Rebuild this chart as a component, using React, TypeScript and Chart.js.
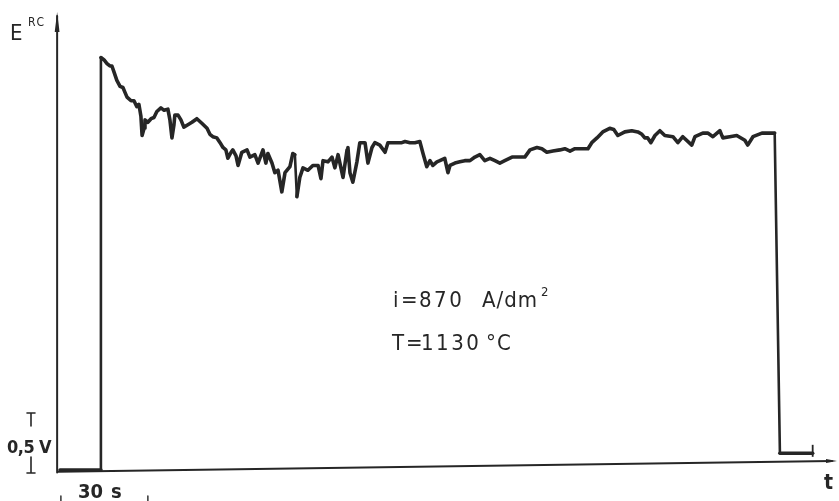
import React, { useEffect, useRef } from "react";
import { Chart, registerables } from "chart.js";

Chart.register(...registerables);

// Recorded potential E^RC versus time t (seconds, volts above the zero line)
const timeSec: number[] = [
  0.7, 14.8, 14.8, 15.9, 16.9, 17.9, 18.6, 19.3, 20.3, 21.4,
  22.4, 23.1, 23.8, 25.2, 26.2, 27.2, 27.9, 28.6, 29.0, 29.7,
  30.0, 31.0, 32.1, 33.1, 34.1, 35.5, 36.6, 37.9, 38.6, 39.3,
  40.0, 40.3, 41.4, 42.4, 43.4, 44.8, 46.2, 47.9, 49.7, 51.4,
  52.4, 53.4, 54.8, 55.9, 56.9, 57.9, 58.6, 59.7, 60.3, 61.4,
  62.1, 63.4, 65.2, 66.2, 67.9, 69.0, 70.7, 71.7, 72.4, 73.8,
  74.8, 75.9, 77.2, 78.3, 80.0, 81.0, 81.7, 82.4, 83.4, 84.5,
  86.2, 87.9, 89.7, 90.7, 91.4, 93.1, 94.5, 95.5, 96.6, 98.3,
  99.7, 100.0, 100.7, 101.7, 103.1, 104.1, 105.9, 106.9, 108.3, 109.3,
  111.0, 112.8, 113.8, 116.2, 118.6, 119.7, 121.4, 123.1, 124.8, 125.9,
  127.2, 128.3, 129.3, 130.7, 131.7, 133.4, 134.5, 135.2, 136.9, 138.6,
  140.3, 142.1, 143.8, 145.5, 147.2, 149.0, 150.7, 152.4, 154.1, 156.6,
  158.3, 161.0, 162.8, 165.2, 166.9, 168.6, 170.7, 173.1, 174.8, 176.6,
  178.3, 180.7, 182.8, 184.1, 185.9, 187.9, 190.3, 191.7, 193.1, 195.5,
  197.9, 200.0, 201.4, 202.4, 203.4, 204.5, 205.9, 207.6, 209.3, 212.1,
  213.8, 215.5, 218.6, 219.7, 222.4, 224.1, 225.9, 228.3, 229.3, 231.7,
  234.1, 236.9, 237.9, 239.7, 242.8, 247.2, 249.0, 260.3,
];

const potentialV: number[] = [
  0.0, 0.0, 3.44, 3.42, 3.39, 3.37, 3.37, 3.32, 3.25, 3.2,
  3.19, 3.15, 3.11, 3.08, 3.08, 3.03, 3.05, 2.95, 2.79, 2.85,
  2.92, 2.9, 2.93, 2.94, 2.99, 3.02, 3.0, 3.01, 2.92, 2.77,
  2.88, 2.96, 2.96, 2.92, 2.86, 2.88, 2.9, 2.93, 2.89, 2.85,
  2.8, 2.78, 2.77, 2.73, 2.69, 2.67, 2.6, 2.65, 2.67, 2.62,
  2.54, 2.65, 2.67, 2.61, 2.63, 2.56, 2.67, 2.56, 2.64, 2.56,
  2.48, 2.5, 2.32, 2.48, 2.53, 2.64, 2.63, 2.28, 2.44, 2.52,
  2.5, 2.54, 2.54, 2.43, 2.58, 2.57, 2.61, 2.52, 2.63, 2.44,
  2.67, 2.69, 2.48, 2.4, 2.57, 2.73, 2.73, 2.56, 2.69, 2.73,
  2.71, 2.65, 2.73, 2.73, 2.73, 2.74, 2.73, 2.73, 2.74, 2.64,
  2.53, 2.58, 2.54, 2.57, 2.58, 2.6, 2.48, 2.54, 2.56, 2.57,
  2.58, 2.58, 2.61, 2.63, 2.58, 2.6, 2.58, 2.56, 2.58, 2.61,
  2.61, 2.61, 2.67, 2.69, 2.68, 2.65, 2.66, 2.67, 2.68, 2.66,
  2.68, 2.68, 2.68, 2.73, 2.77, 2.82, 2.85, 2.84, 2.79, 2.82,
  2.83, 2.82, 2.8, 2.77, 2.77, 2.73, 2.79, 2.83, 2.79, 2.78,
  2.73, 2.78, 2.71, 2.78, 2.81, 2.81, 2.78, 2.83, 2.77, 2.78,
  2.79, 2.75, 2.71, 2.78, 2.81, 2.81, 0.14, 0.14,
];

// Short end marker on the trailing baseline
const endMarkTime: number[] = [260.3, 260.3];
const endMarkV: number[] = [0.11, 0.21];

// Axis extents
const T_MAX = 268;
const E_MAX = 3.82;

const INK = "#262626";
const LABEL_FONT = '"DejaVu Sans Condensed", "DejaVu Sans", sans-serif';

const decorations = {
  id: "recorderDecorations",
  beforeDatasetsDraw(chart: Chart) {
    const ctx = chart.ctx;
    const xs = chart.scales.x;
    const ys = chart.scales.y;
    ctx.save();
    ctx.strokeStyle = INK;
    ctx.fillStyle = INK;
    ctx.lineCap = "round";

    // E axis (vertical) with arrow
    const ax = xs.getPixelForValue(-0.3);
    ctx.lineWidth = 2;
    ctx.beginPath();
    ctx.moveTo(ax, ys.getPixelForValue(-0.02));
    ctx.lineTo(ax, ys.getPixelForValue(E_MAX) + 4);
    ctx.stroke();
    ctx.beginPath();
    ctx.moveTo(ax, ys.getPixelForValue(E_MAX));
    ctx.lineTo(ax - 2.4, ys.getPixelForValue(E_MAX) + 20);
    ctx.lineTo(ax + 2.4, ys.getPixelForValue(E_MAX) + 20);
    ctx.closePath();
    ctx.fill();

    // t axis (slightly tilted on the recorder paper) with arrow
    const x0 = xs.getPixelForValue(0);
    const y0 = ys.getPixelForValue(-0.015);
    const x1 = xs.getPixelForValue(T_MAX);
    const y1 = ys.getPixelForValue(0.075);
    ctx.lineWidth = 2;
    ctx.beginPath();
    ctx.moveTo(x0, y0);
    ctx.lineTo(x1 - 3, y1);
    ctx.stroke();
    ctx.beginPath();
    ctx.moveTo(x1 + 2, y1);
    ctx.lineTo(x1 - 9, y1 - 2);
    ctx.lineTo(x1 - 9, y1 + 2);
    ctx.closePath();
    ctx.fill();

    // 0,5 V scale bar
    const bx = 31;
    const bTop = ys.getPixelForValue(0.5) + 3;
    const bBot = ys.getPixelForValue(-0.025);
    ctx.lineWidth = 1.6;
    ctx.beginPath();
    ctx.moveTo(bx - 4, bTop);
    ctx.lineTo(bx + 4, bTop);
    ctx.moveTo(bx, bTop);
    ctx.lineTo(bx, bTop + 13);
    ctx.moveTo(bx, bBot - 16);
    ctx.lineTo(bx, bBot);
    ctx.moveTo(bx - 4, bBot);
    ctx.lineTo(bx + 4, bBot);
    ctx.stroke();

    // 30 s time bar ticks
    const tA = xs.getPixelForValue(1.0);
    const tB = xs.getPixelForValue(31.0);
    ctx.lineWidth = 1.4;
    ctx.beginPath();
    ctx.moveTo(tA, 496);
    ctx.lineTo(tA, 501);
    ctx.moveTo(tB, 496);
    ctx.lineTo(tB, 501);
    ctx.stroke();

    // Labels
    const spacing = (v: string) => ((ctx as any).letterSpacing = v);
    ctx.textBaseline = "alphabetic";
    ctx.textAlign = "left";
    ctx.font = `500 22px ${LABEL_FONT}`;
    ctx.fillText("E", 10, 40);
    ctx.font = `12px ${LABEL_FONT}`;
    spacing("1.5px");
    ctx.fillText("RC", 28, 26);
    spacing("0px");

    ctx.font = `bold 18px ${LABEL_FONT}`;
    spacing("-0.5px");
    ctx.fillText("0,5", 7, 453);
    spacing("0px");
    ctx.fillText("V", 39, 453);
    ctx.font = `bold 20px ${LABEL_FONT}`;
    ctx.fillText("30", 78, 498);
    ctx.fillText("s", 111, 498);
    ctx.font = `bold 21px ${LABEL_FONT}`;
    ctx.fillText("t", 824, 489);

    ctx.font = `22px ${LABEL_FONT}`;
    ctx.fillText("i", 393, 307);
    ctx.fillText("=", 401, 307);
    spacing("2.5px");
    ctx.fillText("870", 419, 307);
    spacing("1px");
    ctx.fillText("A/dm", 482, 307);
    spacing("0px");
    ctx.fillText("T", 392, 350);
    ctx.fillText("=", 406, 350);
    spacing("2.5px");
    ctx.fillText("1130", 421, 350);
    spacing("1px");
    ctx.fillText("\u00B0C", 486, 350);
    spacing("0px");
    ctx.font = `13px ${LABEL_FONT}`;
    ctx.fillText("2", 541, 296);
    ctx.restore();
  },
};

export default function App() {
  const canvasRef = useRef<HTMLCanvasElement | null>(null);

  useEffect(() => {
    const canvas = canvasRef.current;
    if (!canvas) return;
    const trace = timeSec.map((t, i) => ({ x: t, y: potentialV[i] }));
    const mark = endMarkTime.map((t, i) => ({ x: t, y: endMarkV[i] }));

    const chart = new Chart(canvas, {
      type: "line",
      data: {
        datasets: [
          {
            data: trace,
            borderColor: INK,
            borderWidth: 3.6,
            pointRadius: 0,
            tension: 0,
            clip: false,
            borderJoinStyle: "round",
            borderCapStyle: "round",
            segment: {
              borderWidth: (c: any) =>
                Math.abs(c.p1.y - c.p0.y) > 4 * Math.abs(c.p1.x - c.p0.x) + 20 ? 2.6 : 3.6,
            },
          },
          {
            data: mark,
            borderColor: INK,
            borderWidth: 1.8,
            pointRadius: 0,
            clip: false,
          },
        ],
      },
      options: {
        animation: false,
        responsive: false,
        parsing: true,
        layout: { padding: { left: 58, top: 12, right: 4, bottom: 31 } },
        plugins: {
          legend: { display: false },
          tooltip: { enabled: false },
        },
        scales: {
          x: { type: "linear", min: 0, max: T_MAX, display: false },
          y: { type: "linear", min: 0, max: E_MAX, display: false },
        },
      },
      plugins: [decorations],
    });
    return () => chart.destroy();
  }, []);

  return (
    <div style={{ position: "fixed", left: 0, top: 0, width: 839, height: 501, background: "#fff" }}>
      <canvas ref={canvasRef} width={839} height={501} />
    </div>
  );
}
